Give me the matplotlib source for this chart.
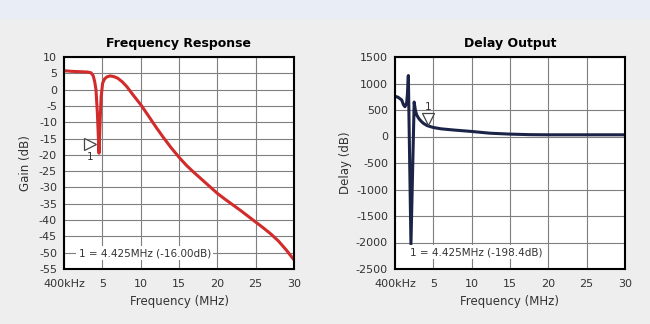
import numpy as np
import matplotlib
matplotlib.use("Agg")
import matplotlib.pyplot as plt
from matplotlib.patches import Rectangle

plt.rcParams['axes.unicode_minus'] = False

# frequency response (MHz, dB)
freq_gain = [0.0, 1.0, 2.0, 3.0, 3.5, 3.8, 4.0, 4.17, 4.35, 4.57, 4.72, 4.85, 5.04, 5.3, 5.6, 6.0, 6.5,
             7.0, 7.6, 8.2, 9.0, 10.1, 11.0, 12.0, 13.0, 14.0, 15.1, 16.0, 17.0, 18.0, 19.0, 20.0,
             21.0, 22.0, 23.0, 24.0, 25.0, 26.0, 27.0, 28.0, 29.0, 30.0]
gain = [5.8, 5.6, 5.5, 5.4, 5.2, 4.3, 2.5, 0.0, -7.0, -19.5, -9.0, -2.0, 2.0, 3.3, 3.9, 4.2, 4.0,
        3.5, 2.4, 0.9, -1.6, -4.9, -8.0, -11.5, -14.8, -17.9, -21.0, -23.3, -25.5, -27.6, -29.7, -31.8,
        -33.6, -35.3, -37.0, -38.8, -40.6, -42.4, -44.3, -46.5, -49.2, -52.2]

# delay output (MHz, value)
freq_delay = [0.0, 0.4, 0.87, 1.1, 1.3, 1.52, 1.62, 1.74, 2.08, 2.5, 2.65, 2.83, 3.1, 3.4, 3.7, 4.2,
              5.0, 6.0, 7.6, 10.0, 12.4, 15.0, 17.5, 20.0, 25.0, 30.0]
delay = [760, 740, 690, 600, 562, 630, 800, 1150, -2030, 650, 500, 406, 340, 290, 249, 205,
         170, 145, 123, 95, 62, 45, 35, 32, 32, 32]

x_ticks = [0, 5, 10, 15, 20, 25, 30]
x_labels = ['400kHz', '5', '10', '15', '20', '25', '30']
gain_ticks = list(range(-55, 11, 5))
delay_ticks = list(range(-2500, 1501, 500))

fig = plt.figure(figsize=(6.5, 3.24), dpi=100)
fig.patch.set_facecolor('#eeeeee')
fig.patches.append(Rectangle((0, 1 - 19 / 324.), 1, 19 / 324., transform=fig.transFigure,
                             facecolor='#e9eef6', edgecolor='none', zorder=-1))

ax1 = fig.add_axes([64 / 650., 55 / 324., 230 / 650., 212 / 324.])
ax2 = fig.add_axes([395 / 650., 55 / 324., 230 / 650., 212 / 324.])

for ax in [ax1, ax2]:
    ax.set_facecolor('white')
    ax.set_xlim(0, 30)
    ax.set_xticks(x_ticks)
    ax.set_xticklabels(x_labels)
    ax.grid(True, color='#7f7f7f', linewidth=0.8)
    ax.set_axisbelow(True)
    ax.tick_params(length=0, labelsize=8, labelcolor='#333333')
    ax.tick_params(axis='x', pad=7)
    ax.tick_params(axis='y', pad=5)
    for s in ax.spines.values():
        s.set_linewidth(1.5)
        s.set_color('black')
    ax.set_xlabel('Frequency (MHz)', fontsize=8.5, color='#333333')
    ax.xaxis.set_label_coords(0.5, -0.125)

# Frequency response
ax1.plot(freq_gain, gain, color='#d22b2b', linewidth=2.2, solid_joinstyle='round')
ax1.set_ylim(-55, 10)
ax1.set_yticks(gain_ticks)
ax1.set_title('Frequency Response', fontsize=9, fontweight='bold', pad=7)
ax1.set_ylabel('Gain (dB)', fontsize=8.5, color='#333333')
ax1.yaxis.set_label_coords(-0.14, 0.5)
ax1.plot([3.43], [-16.7], marker='>', markersize=8, markerfacecolor='white',
         markeredgecolor='#444444', markeredgewidth=0.9, linestyle='none')
ax1.text(3.4, -20.8, '1', fontsize=7.5, ha='center', va='center', color='#333333')
ax1.text(1.9, -50.1, '1 = 4.425MHz (-16.00dB)', fontsize=7.5, ha='left', va='center', color='#333333',
         bbox=dict(facecolor='white', edgecolor='none', pad=1.5))

# Delay output
ax2.plot(freq_delay, delay, color='#1b2347', linewidth=2.2, solid_joinstyle='round')
ax2.set_ylim(-2500, 1500)
ax2.set_yticks(delay_ticks)
ax2.set_title('Delay Output', fontsize=9, fontweight='bold', pad=7)
ax2.set_ylabel('Delay (dB)', fontsize=8.5, color='#333333')
ax2.yaxis.set_label_coords(-0.185, 0.5)
ax2.plot([4.35], [330], marker='v', markersize=9, markerfacecolor='white',
         markeredgecolor='#444444', markeredgewidth=0.9, linestyle='none')
ax2.text(4.26, 565, '1', fontsize=7.5, ha='center', va='center', color='#333333')
ax2.text(1.96, -2180, '1 = 4.425MHz (-198.4dB)', fontsize=7.5, ha='left', va='center', color='#333333',
         bbox=dict(facecolor='white', edgecolor='none', pad=1.5))

fig.savefig('out.png', dpi=100, facecolor=fig.get_facecolor())
